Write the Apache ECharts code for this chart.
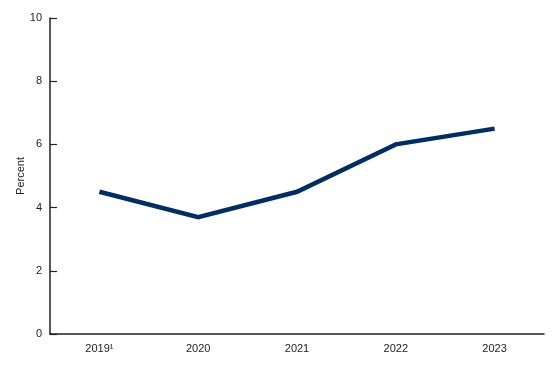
<!DOCTYPE html>
<html>
<head>
<meta charset="utf-8">
<script src="https://cdn.jsdelivr.net/npm/echarts@6/dist/echarts.min.js"></script>
<style>html,body{margin:0;padding:0;background:#fff}#c{width:560px;height:367px}</style>
</head>
<body>
<div id="c"></div>
<script>
const categories = ['2019¹', '2020', '2021', '2022', '2023'];
const percentValues = [4.5, 3.7, 4.5, 6.0, 6.5];
const yTicks = [0, 2, 4, 6, 8, 10];

const chart = echarts.init(document.getElementById('c'), null, {renderer: 'canvas'});
chart.setOption({
  animation: false,
  backgroundColor: '#ffffff',
  textStyle: {fontFamily: 'Liberation Sans, Arial, sans-serif'},
  grid: {left: 50, right: 16, top: 18, bottom: 33, containLabel: false},
  xAxis: {
    type: 'category',
    data: categories,
    boundaryGap: true,
    axisLine: {lineStyle: {color: '#222', width: 1.5}},
    axisTick: {alignWithLabel: true, inside: true, length: 6, lineStyle: {color: '#222', width: 1.2}},
    axisLabel: {color: '#222', fontSize: 11, margin: 9, fontFamily: 'Liberation Sans, Arial, sans-serif'},
    splitLine: {show: false}
  },
  yAxis: {
    type: 'value',
    min: yTicks[0],
    max: yTicks[yTicks.length - 1],
    interval: 2,
    name: 'Percent',
    nameLocation: 'middle',
    nameRotate: 90,
    nameGap: 24,
    nameMoveOverlap: false,
    nameTextStyle: {color: '#222', fontSize: 11, fontFamily: 'Liberation Sans, Arial, sans-serif'},
    axisLine: {show: true, lineStyle: {color: '#222', width: 1.5}},
    axisTick: {show: true, inside: true, length: 7, lineStyle: {color: '#222', width: 1.2}},
    axisLabel: {color: '#222', fontSize: 11, margin: 8, fontFamily: 'Liberation Sans, Arial, sans-serif'},
    splitLine: {show: false}
  },
  series: [{
    type: 'line',
    data: percentValues,
    symbol: 'none',
    lineStyle: {color: '#002d62', width: 4.5, cap: 'butt', join: 'miter'},
    itemStyle: {color: '#002d62'}
  }]
});
</script>
</body>
</html>
